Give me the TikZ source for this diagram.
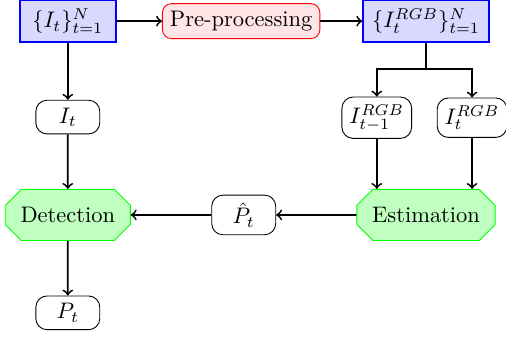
\documentclass[tikz,border=0pt]{standalone}
\usepackage{amsmath}
\usepackage{amssymb}
\usepackage{xcolor}
\usepackage{tikz}
\usetikzlibrary{arrows,positioning,shapes.misc}
\tikzset{
	frames/.style={draw=blue, fill=blue!15, minimum height=0.65cm, inner xsep=4pt}, % image sets
	prep/.style={draw=red, thin, fill=red!10, rounded corners=4pt},
	item/.style={draw, thin, rounded corners=5pt, minimum width=1cm, minimum height=0.52cm},
	stage/.style={chamfered rectangle, chamfered rectangle xsep=0.15cm, draw=green, thin, fill=green!25, minimum height=0.8cm, inner xsep=2.5pt},
}
\begin{document}
\begin{tikzpicture}[thick]
	\useasboundingbox (0,0) rectangle (7.91,-5.27);

	\node[frames, minimum width=1.5cm] (frames) at (1.06,-0.33) {$\{I_t\}_{t=1}^{N}$};
	\node[prep] (prep) at (3.77,-0.33) {Pre-processing};
	\node[frames] (rgbframes) at (6.66,-0.33) {$\{I_t^{RGB}\}_{t=1}^{N}$};

	\node[item] (it) at (1.06,-1.83) {$I_t$};
	\node[item] (prev) at (5.89,-1.84) {$I_{t-1}^{RGB}$};
	\node[item] (cur) at (7.38,-1.84) {$I_{t}^{RGB}$};

	\node[stage] (det) at (1.06,-3.36) {Detection};
	\node[item, minimum height=0.62cm] (phat) at (3.81,-3.36) {$\hat{P}_t$};
	\node[stage] (est) at (6.66,-3.36) {Estimation};

	\node[item] (pt) at (1.06,-4.89) {$P_t$};

	\coordinate (split) at (6.66,-1.08);

	\draw[->] (frames) -- (prep);
	\draw[->] (prep) -- (rgbframes);
	\draw[->] (frames) -- (it);
	\draw (rgbframes) -- (split);
	\draw[->] (split) -| (prev);
	\draw[->] (split) -| (cur);
	\draw[->] (prev) -- (prev |- est.north);
	\draw[->] (cur) -- (cur |- est.north);
	\draw[->] (it) -- (det);
	\draw[->] (est) -- (phat);
	\draw[->] (phat) -- (det);
	\draw[->] (det) -- (pt);
\end{tikzpicture}
\end{document}
